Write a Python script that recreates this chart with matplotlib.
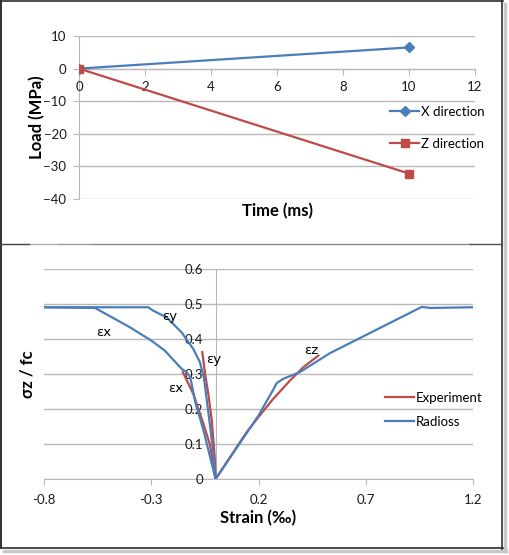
import matplotlib
matplotlib.use("Agg")
import matplotlib.pyplot as plt
from matplotlib.lines import Line2D

plt.rcParams['font.family'] = ['Lato', 'DejaVu Sans']

# ---------------- data ----------------
time_ms = [0, 10]
load_x = [0, 6.5]
load_z = [0, -32.2]

top_xticks = [0, 2, 4, 6, 8, 10, 12]
top_yticks = [10, 0, -10, -20, -30, -40]

rad_ex_x = [-0.8, -0.562, -0.40, -0.30, -0.236, -0.158, -0.135, -0.118, -0.095, -0.057, 0.0]
rad_ex_y = [0.49, 0.488, 0.433, 0.395, 0.366, 0.314, 0.305, 0.290, 0.220, 0.140, 0.0]

rad_ey_x = [-0.8, -0.314, -0.29, -0.228, -0.158, -0.104, -0.073, -0.054, -0.034, -0.011, 0.0]
rad_ey_y = [0.49, 0.49, 0.48, 0.461, 0.418, 0.371, 0.333, 0.287, 0.191, 0.078, 0.0]

rad_ez_x = [0.0, 0.199, 0.25, 0.269, 0.285, 0.316, 0.393, 0.533, 0.961, 1.0, 1.2]
rad_ez_y = [0.0, 0.18, 0.235, 0.255, 0.274, 0.286, 0.305, 0.359, 0.491, 0.488, 0.49]

exp_ez_x = [0.0, 0.145, 0.199, 0.269, 0.347, 0.409, 0.479]
exp_ez_y = [0.0, 0.134, 0.176, 0.229, 0.281, 0.319, 0.352]

exp_ex_x = [-0.153, -0.104, -0.057, -0.026, 0.0]
exp_ex_y = [0.305, 0.243, 0.158, 0.097, 0.0]

exp_ey_x = [-0.062, -0.049, -0.034, -0.018, -0.003, 0.0]
exp_ey_y = [0.362, 0.30, 0.243, 0.168, 0.054, 0.0]

bot_xticks = [-0.8, -0.3, 0.2, 0.7, 1.2]
bot_yticks = [0, 0.1, 0.2, 0.3, 0.4, 0.5, 0.6]

labels_txt = ['εy', 'εx', 'εy', 'εx', 'εz']
labels_x = [-0.2126, -0.520, -0.011, -0.185, 0.448]
labels_y = [0.464, 0.418, 0.340, 0.258, 0.368]

BLUE = '#4A7EBB'
RED = '#BE4B48'
GRID = '#B8B8B8'
TXT = '#1a1a1a'

W, H = 510, 555
fig = plt.figure(figsize=(W / 100, H / 100), dpi=100)
fig.patch.set_facecolor('white')

def fx(px):
    return px / W

def fy(py):
    return 1 - py / H

TICK_FS = 9.5
LAB_FS = 12
LEG_FS = 9.5

# ---------------- top chart ----------------
ax1 = fig.add_axes([fx(79), fy(199), fx(475) - fx(79), fy(36) - fy(199)])
ax1.plot(time_ms, load_x, color=BLUE, lw=1.6, marker='D', ms=5, label='X direction')
ax1.plot(time_ms, load_z, color=RED, lw=1.6, marker='s', ms=5.5, label='Z direction')
ax1.set_xlim(0, 12)
ax1.set_ylim(-40, 10)
ax1.set_xticks(top_xticks)
ax1.set_yticks(top_yticks)
ax1.grid(axis='y', color=GRID, lw=1)
ax1.set_axisbelow(True)
for s in ['top', 'right']:
    ax1.spines[s].set_visible(False)
ax1.spines['left'].set_position(('data', 0))
ax1.spines['bottom'].set_position(('data', 0))
for s in ['left', 'bottom']:
    ax1.spines[s].set_color(GRID)
    ax1.spines[s].set_zorder(0.5)
ax1.tick_params(axis='x', direction='out', length=4, color=GRID, labelsize=TICK_FS, labelcolor=TXT, pad=5)
ax1.tick_params(axis='y', direction='out', length=4, color=GRID, labelsize=TICK_FS, labelcolor=TXT, pad=5)
ax1.set_xlabel('Time (ms)', fontsize=LAB_FS, fontweight='bold')
ax1.set_ylabel('Load (MPa)', fontsize=LAB_FS, fontweight='bold')
ax1.xaxis.set_label_coords(0.5, (fy(211.5) - fy(199)) / (fy(36) - fy(199)))
ax1.xaxis.label.set_va('center')
ax1.yaxis.set_label_coords((fx(37) - fx(79)) / (fx(475) - fx(79)), 0.5)
ax1.yaxis.label.set_va('center')
ax1.legend(loc='center left', bbox_to_anchor=(fx(390), fy(128)), bbox_transform=fig.transFigure,
           frameon=False, fontsize=LEG_FS, handlelength=2.2, handletextpad=0.15,
           labelspacing=1.5, borderpad=0, borderaxespad=0)

# ---------------- bottom chart ----------------
ax2 = fig.add_axes([fx(44), fy(479), fx(473) - fx(44), fy(268.7) - fy(479)])
ax2.plot(exp_ex_x, exp_ex_y, color=RED, lw=1.6, label='Experiment')
ax2.plot(exp_ey_x, exp_ey_y, color=RED, lw=1.6)
ax2.plot(exp_ez_x, exp_ez_y, color=RED, lw=1.6)
ax2.plot(rad_ex_x, rad_ex_y, color=BLUE, lw=1.6, label='Radioss')
ax2.plot(rad_ey_x, rad_ey_y, color=BLUE, lw=1.6)
ax2.plot(rad_ez_x, rad_ez_y, color=BLUE, lw=1.6)
for t, x, y in zip(labels_txt, labels_x, labels_y):
    ax2.text(x, y, t, fontsize=9.5, ha='center', va='center', color='black',
             family=['DejaVu Sans'])
ax2.set_xlim(-0.8, 1.2)
ax2.set_ylim(0, 0.6)
ax2.set_xticks(bot_xticks)
ax2.set_xticklabels(['-0.8', '-0.3', '0.2', '0.7', '1.2'])
ax2.set_yticks(bot_yticks)
ax2.set_yticklabels(['0', '0.1', '0.2', '0.3', '0.4', '0.5', '0.6'])
ax2.grid(axis='y', color=GRID, lw=1)
ax2.set_axisbelow(True)
for s in ['top', 'right']:
    ax2.spines[s].set_visible(False)
ax2.spines['left'].set_position(('data', 0))
for s in ['left', 'bottom']:
    ax2.spines[s].set_color(GRID)
    ax2.spines[s].set_zorder(0.5)
ax2.tick_params(axis='x', direction='out', length=4, color=GRID, labelsize=TICK_FS, labelcolor=TXT, pad=7)
ax2.tick_params(axis='y', length=0, labelsize=TICK_FS, labelcolor=TXT, pad=9)
for lbl in ax2.get_yticklabels():
    lbl.set_zorder(5)
ax2.set_xlabel('Strain (‰)', fontsize=LAB_FS, fontweight='bold')
ax2.set_ylabel('σz / fc', fontsize=LAB_FS, fontweight='bold')
ax2.xaxis.set_label_coords(0.5, (fy(518) - fy(479)) / (fy(268.7) - fy(479)))
ax2.xaxis.label.set_va('center')
ax2.yaxis.set_label_coords((fx(28) - fx(44)) / (fx(473) - fx(44)), 0.5)
ax2.yaxis.label.set_va('center')
ax2.legend(loc='center left', bbox_to_anchor=(fx(385), fy(409.7)), bbox_transform=fig.transFigure,
           frameon=False, fontsize=LEG_FS, handlelength=2.2, handletextpad=0.15,
           labelspacing=0.9, borderpad=0, borderaxespad=0)

# ---------------- frame ----------------
def hline(y, x0, x1, c, lw):
    fig.add_artist(Line2D([fx(x0), fx(x1)], [fy(y), fy(y)], color=c, lw=lw, transform=fig.transFigure))

def vline(x, y0, y1, c, lw):
    fig.add_artist(Line2D([fx(x), fx(x)], [fy(y0), fy(y1)], color=c, lw=lw, transform=fig.transFigure))

# shadows
vline(505, 4, 551, '#C8C8C8', 2.5)
hline(550.5, 4, 506, '#C8C8C8', 2.5)
# borders
vline(0.8, 0, 548, '#303030', 1.4)
hline(0.8, 0, 503, '#303030', 1.2)
vline(502.5, 0, 548.5, '#303030', 1.2)
hline(548, 0, 503, '#303030', 1.2)
# separator
hline(244.5, 0, 30, '#404040', 1.0)
hline(244.5, 30, 60, '#B0B0B0', 1.0)
hline(244.5, 60, 93, '#999999', 1.0)
hline(244.5, 93, 470, '#8a8a8a', 1.0)
hline(244.5, 470, 502, '#505050', 1.0)

fig.savefig('out.png', dpi=100)
